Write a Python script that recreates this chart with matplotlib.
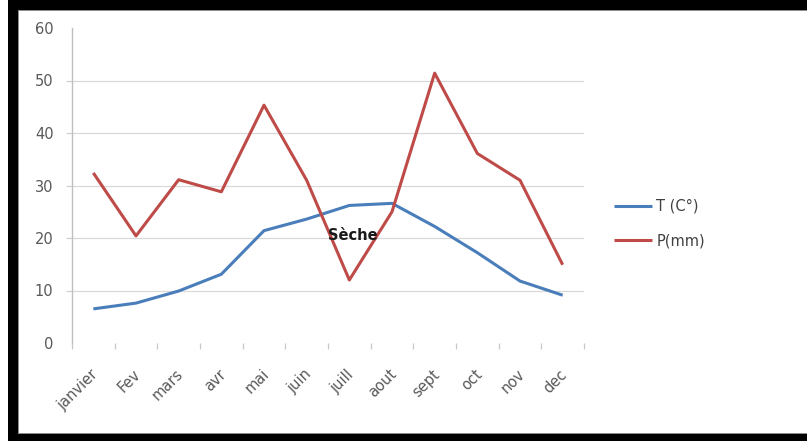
import matplotlib
matplotlib.use("Agg")
import matplotlib.pyplot as plt
from matplotlib.patches import Rectangle
from matplotlib.transforms import ScaledTranslation
import numpy as np

# Monthly climate data
months = ["janvier", "Fev", "mars", "avr", "mai", "juin",
          "juill", "aout", "sept", "oct", "nov", "dec"]
temperature = [6.5, 7.6, 9.9, 13.1, 21.4, 23.6, 26.2, 26.6, 22.2, 17.2, 11.8, 9.1]
precipitation = [32.4, 20.4, 31.1, 28.8, 45.3, 31.0, 12.0, 25.0, 51.4, 36.1, 31.0, 14.9]
y_ticks = [0, 10, 20, 30, 40, 50, 60]
labels = ["T (C°)", "P(mm)"]
annotation = "Sèche"

W, H = 807, 441
plt.rcParams["font.family"] = ["DejaVu Sans"]

fig = plt.figure(figsize=(W / 100, H / 100), dpi=100)
fig.patch.set_facecolor("white")

# Frame around the chart (black bands with a thin grey inner edge)
def px_rect(x0, y0, x1, y1, color):
    fig.add_artist(Rectangle((x0 / W, 1 - y1 / H), (x1 - x0) / W, (y1 - y0) / H,
                             transform=fig.transFigure, facecolor=color,
                             edgecolor="none", zorder=10))

px_rect(8, 0, W, 10, "black")
px_rect(18, 10, W, 11, "#8c8c8c")
px_rect(8, 0, 18, H, "black")
px_rect(18, 10, 19, 433, "#8c8c8c")
px_rect(8, 434, W, H, "black")
px_rect(18, 433, W, 434, "#8c8c8c")

ax = fig.add_axes([72 / W, 1 - 343 / H, (584 - 72) / W, (343 - 28) / H])
x = np.arange(len(months))

blue = "#4a7ebb"
red = "#be4b48"
l1, = ax.plot(x, temperature, color=blue, lw=2.2, solid_capstyle="butt",
              solid_joinstyle="round", zorder=3, label=labels[0])
l2, = ax.plot(x, precipitation, color=red, lw=2.2, solid_capstyle="butt",
              solid_joinstyle="round", zorder=4, label=labels[1])

ax.set_xlim(-0.5, len(months) - 0.5)
ax.set_ylim(0, 60)

for s in ["top", "right", "bottom"]:
    ax.spines[s].set_visible(False)
ax.spines["left"].set_color("#bfbfbf")
ax.spines["left"].set_linewidth(1.0)
ax.spines["left"].set_bounds(0, 60)

ax.set_yticks(y_ticks)
ax.set_yticklabels([str(v) for v in y_ticks])
ax.tick_params(axis="y", length=4.3, width=0.9, color="#d0d0d0", pad=9,
               labelsize=10.5, labelcolor="#595959")
ax.yaxis.grid(True, color="#d9d9d9", lw=0.9)
for t, v in zip(ax.yaxis.get_major_ticks(), y_ticks):
    if v in (0, 60):
        t.gridline.set_visible(False)
        t.tick1line.set_visible(False)

ax.set_xticks(x)
ax.set_xticklabels(months, rotation=45, ha="right", va="top",
                   rotation_mode="anchor")
ax.set_xticks(np.arange(-0.5, len(months)), minor=True)
ax.tick_params(axis="x", which="major", length=0, pad=17,
               labelsize=10.5, labelcolor="#595959")
ax.tick_params(axis="x", which="minor", length=4.3, width=0.9, color="#c8c8c8")
shift = ScaledTranslation(-3 / 100, 0, fig.dpi_scale_trans)
for lab in ax.get_xticklabels():
    lab.set_transform(lab.get_transform() + shift)
ax.set_axisbelow(True)

ax.text(6.08, 20.5, annotation, ha="center", va="center", fontsize=10.5,
        fontweight="bold", color="#1a1a1a", zorder=6)

fig.legend(handles=[l1, l2], labels=labels, loc="center left",
           bbox_to_anchor=(614 / W, 1 - 223.5 / H), frameon=False,
           fontsize=10.5, handlelength=2.6, handletextpad=0.3,
           labelspacing=1.35, borderpad=0, borderaxespad=0,
           labelcolor="#404040")

fig.savefig("out.png", dpi=100, facecolor="white")
